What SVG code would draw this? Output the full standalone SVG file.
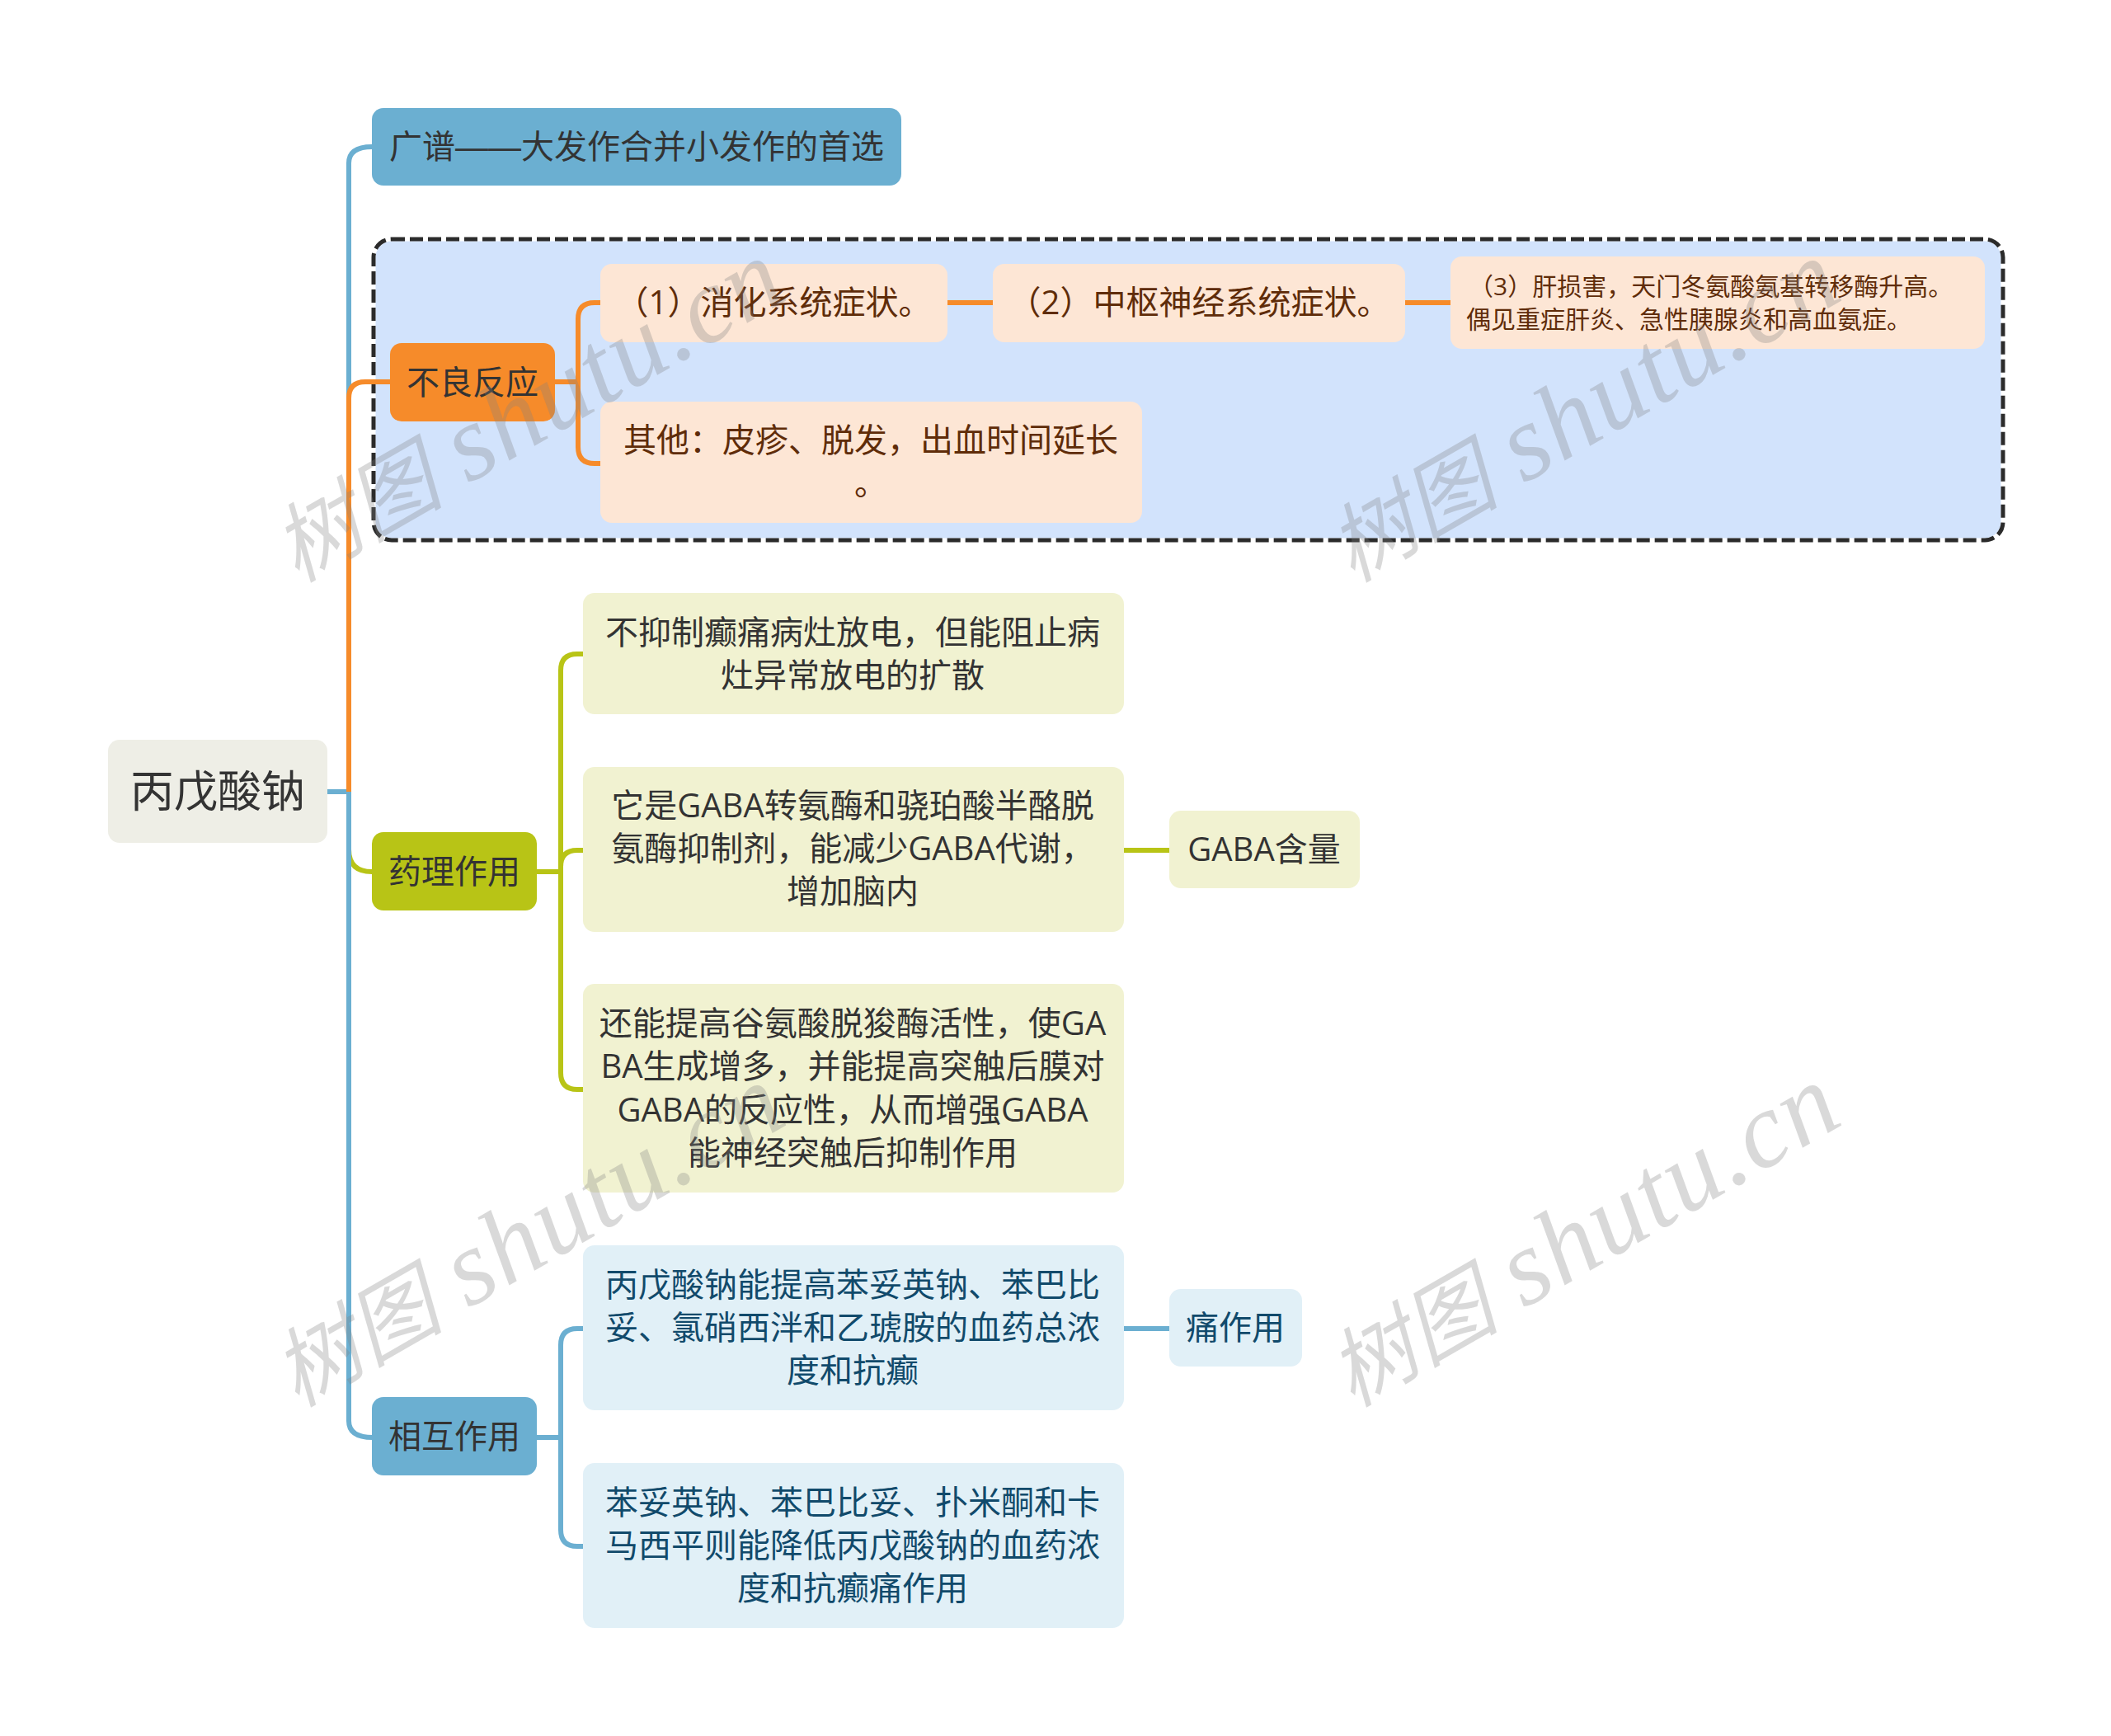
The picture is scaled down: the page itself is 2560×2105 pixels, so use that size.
<svg xmlns="http://www.w3.org/2000/svg" width="2560" height="2105" viewBox="0 0 2560 2105" xml:lang="zh-CN">
<style>
text{font-family:"Open Sans","Noto Sans CJK SC",sans-serif;font-size:40px;fill:#333;text-anchor:middle;text-spacing-trim:space-all;font-kerning:none}
.l{fill:none;stroke-width:6;stroke-linecap:butt}
.b{stroke:#6bafd1}.o{stroke:#f68b2a}.g{stroke:#b8c416}
.pe{fill:#fde6d5}text.pe{fill:#5f2c09}
.ye{fill:#f1f2d1}.bl{fill:#e1f0f7}
text.tb{fill:#114a6b}
.ds{font-family:"Liberation Sans",sans-serif}
text.wm{font-family:"Liberation Serif","Noto Sans CJK SC",serif;font-size:104px;font-style:italic;fill:#808080;fill-opacity:.3;text-anchor:start}
.wl{font-size:130px;letter-spacing:2px}
</style>
<rect width="2560" height="2105" fill="#fff"/>
<g id="frame"><rect x="453" y="290" width="1976" height="365" rx="22" fill="#d2e3fc" stroke="#fff" stroke-width="5"/><rect x="453" y="290" width="1976" height="365" rx="22" fill="none" stroke="#2b2b2b" stroke-width="5" stroke-dasharray="16 6"/></g>
<g id="connectors">
<path class="l g" d="M423 1030Q423 1057 451 1057"/>
<path class="l b" d="M423 960V198Q423 178 451 178M397 960H423V1723Q423 1743 452 1743"/>
<path class="l o" d="M423 960V483Q423 463 443 463H473"/>
<path class="l o" d="M673 463H701M728 367H721Q701 367 701 387V542Q701 562 721 562H728M1149 367H1204M1704 367H1759"/>
<path class="l g" d="M651 1057H680M707 793H700Q680 793 680 813V1301Q680 1321 700 1321H707M680 1051Q680 1031 700 1031H707M1363 1031H1418"/>
<path class="l b" d="M651 1743H680M707 1611H700Q680 1611 680 1631V1855Q680 1875 700 1875H707M1363 1611H1419"/>
</g>
<g id="n-root"><rect x="131" y="897" width="266" height="125" rx="14" fill="#eeeee6"/><text x="264" y="979" style="font-size:53px">丙戊酸钠</text></g>
<g id="n-top"><rect x="451" y="131" width="642" height="94" rx="14" fill="#6bafd1"/><text x="772" y="192">广谱<tspan class="ds">——</tspan>大发作合并小发作的首选</text></g>
<g id="n-adverse"><rect x="473" y="416" width="200" height="95" rx="14" fill="#f68b2a"/><text x="573" y="478">不良反应</text></g>
<g id="n-a1"><rect x="728" y="320" width="421" height="95" rx="14" class="pe"/><text class="pe" x="938" y="381">（1）消化系统症状。</text></g>
<g id="n-a2"><rect x="1204" y="320" width="500" height="95" rx="14" class="pe"/><text class="pe" x="1454" y="381">（2）中枢神经系统症状。</text></g>
<g id="n-a3"><rect x="1759" y="311" width="648" height="112" rx="14" class="pe"/><text class="pe" x="1781" y="358" style="font-size:30px;text-anchor:start">（3）肝损害，天门冬氨酸氨基转移酶升高。</text><text class="pe" x="1778" y="398" style="font-size:30px;text-anchor:start">偶见重症肝炎、急性胰腺炎和高血氨症。</text></g>
<g id="n-a4"><rect x="728" y="487" width="657" height="147" rx="14" class="pe"/><text class="pe" x="1056" y="548">其他：皮疹、脱发，出血时间延长</text><text class="pe" x="1056" y="600">。</text></g>
<g id="n-pharm"><rect x="451" y="1009" width="200" height="95" rx="14" fill="#b8c416"/><text x="551" y="1071">药理作用</text></g>
<g id="n-p1"><rect x="707" y="719" width="656" height="147" rx="14" class="ye"/><text x="1034" y="781">不抑制癫痛病灶放电，但能阻止病</text><text x="1034" y="833">灶异常放电的扩散</text></g>
<g id="n-p2"><rect x="707" y="930" width="656" height="200" rx="14" class="ye"/><text x="1034" y="991">它是GABA转氨酶和骁珀酸半酪脱</text><text x="1034" y="1043">氨酶抑制剂，能减少GABA代谢，</text><text x="1034" y="1095">增加脑内</text></g>
<g id="n-p3"><rect x="707" y="1193" width="656" height="253" rx="14" class="ye"/><text x="1034" y="1255">还能提高谷氨酸脱狻酶活性，使GA</text><text x="1034" y="1307">BA生成增多，并能提高突触后膜对</text><text x="1034" y="1360">GABA的反应性，从而增强GABA</text><text x="1034" y="1412">能神经突触后抑制作用</text></g>
<g id="n-p4"><rect x="1418" y="983" width="231" height="94" rx="14" class="ye"/><text x="1533" y="1044">GABA含量</text></g>
<g id="n-inter"><rect x="451" y="1694" width="200" height="95" rx="14" fill="#6bafd1"/><text x="551" y="1756">相互作用</text></g>
<g id="n-i1"><rect x="707" y="1510" width="656" height="200" rx="14" class="bl"/><text class="tb" x="1034" y="1572">丙戊酸钠能提高苯妥英钠、苯巴比</text><text class="tb" x="1034" y="1624">妥、氯硝西泮和乙琥胺的血药总浓</text><text class="tb" x="1034" y="1676">度和抗癫</text></g>
<g id="n-i2"><rect x="707" y="1774" width="656" height="200" rx="14" class="bl"/><text class="tb" x="1034" y="1836">苯妥英钠、苯巴比妥、扑米酮和卡</text><text class="tb" x="1034" y="1888">马西平则能降低丙戊酸钠的血药浓</text><text class="tb" x="1034" y="1940">度和抗癫痛作用</text></g>
<g id="n-i3"><rect x="1418" y="1563" width="161" height="94" rx="14" class="bl"/><text class="tb" x="1498" y="1624">痛作用</text></g>
<g id="watermarks">
<text class="wm" transform="translate(360 707) rotate(-30)">树图 <tspan class="wl" dx="6">shutu.cn</tspan></text>
<text class="wm" transform="translate(1640 707) rotate(-30)">树图 <tspan class="wl" dx="6">shutu.cn</tspan></text>
<text class="wm" transform="translate(360 1707) rotate(-30)">树图 <tspan class="wl" dx="6">shutu.cn</tspan></text>
<text class="wm" transform="translate(1640 1707) rotate(-30)">树图 <tspan class="wl" dx="6">shutu.cn</tspan></text>
</g>
</svg>
